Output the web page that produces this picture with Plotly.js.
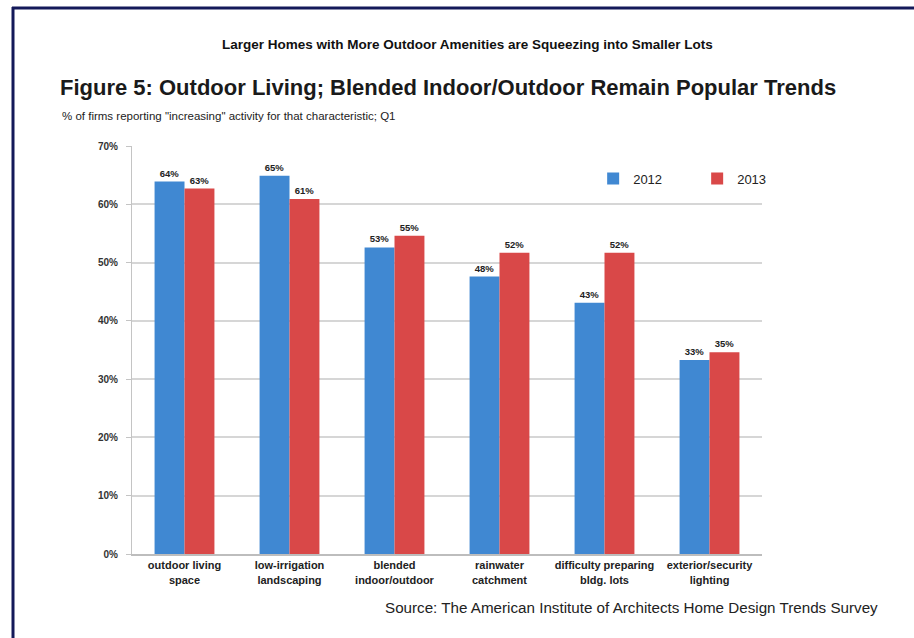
<!DOCTYPE html>
<html>
<head>
<meta charset="utf-8">
<script src="https://cdn.plot.ly/plotly-3.0.1.min.js"></script>
<style>html,body{margin:0;padding:0;background:#fff;}#chart{width:914px;height:638px;}</style>
</head>
<body>
<div id="chart"></div>
<script>
var categories = ["outdoor living<br>space", "low-irrigation<br>landscaping", "blended<br>indoor/outdoor", "rainwater<br>catchment", "difficulty preparing<br>bldg. lots", "exterior/security<br>lighting"];
var values2012 = [63.9, 64.9, 52.6, 47.6, 43.1, 33.3];
var values2013 = [62.7, 60.9, 54.6, 51.7, 51.7, 34.6];
var tickVals = [0, 10, 20, 30, 40, 50, 60, 70];
var tickText = ["0%", "10%", "20%", "30%", "40%", "50%", "60%", "70%"];
var seriesNames = ["2012", "2013"];

var FONT = "Liberation Sans, Arial, sans-serif";
function barTrace(name, vals, color) {
  return {
    type: "bar", name: name, x: categories, y: vals,
    marker: {color: color},
    text: vals.map(function(v){ return Math.round(v) + "%"; }),
    textposition: "outside", cliponaxis: false,
    textfont: {family: FONT, size: 9.5, color: "#222", weight: "bold"},
    hoverinfo: "skip"
  };
}
var data = [barTrace(seriesNames[0], values2012, "#4088d2"), barTrace(seriesNames[1], values2013, "#d94848")];

var navy = "#141a5a";
var layout = {
  width: 914, height: 638,
  margin: {l: 132, r: 152, t: 146, b: 84},
  paper_bgcolor: "#ffffff", plot_bgcolor: "#ffffff",
  barmode: "group", bargap: 0.43, bargroupgap: 0,
  showlegend: true,
  legend: {orientation: "h", x: 0.732, y: 0.92, xanchor: "left", yanchor: "middle",
    font: {family: FONT, size: 13, color: "#222"},
    bgcolor: "rgba(0,0,0,0)", entrywidth: 59, entrywidthmode: "pixels", itemwidth: 30},
  title: {text: "<b>Figure 5: Outdoor Living; Blended Indoor/Outdoor Remain Popular Trends</b>",
    xref: "container", yref: "container", x: 60/914, xanchor: "left", y: 1 - 87/638, yanchor: "middle",
    font: {family: FONT, size: 22, color: "#1a1a1a"}},
  xaxis: {
    tickfont: {family: FONT, size: 11, color: "#222", weight: "bold"},
    showline: true, linecolor: "#bdbdbd", linewidth: 2, ticks: "", showgrid: false, fixedrange: true
  },
  yaxis: {
    range: [0, 70], tickvals: tickVals, ticktext: tickText,
    tickfont: {family: FONT, size: 10, color: "#333", weight: "bold"},
    showgrid: true, gridcolor: "#d6d6d6", gridwidth: 2,
    showline: true, linecolor: "#c4c4c4", linewidth: 1,
    ticks: "outside", ticklen: 5, tickcolor: "#c4c4c4", ticklabelstandoff: 6, zeroline: false, fixedrange: true
  },
  annotations: [
    {text: "<b>Larger Homes with More Outdoor Amenities are Squeezing into Smaller Lots</b>",
     xref: "paper", yref: "paper", x: (467-132)/630, y: (554-44)/408, xanchor: "center", yanchor: "middle",
     showarrow: false, font: {family: FONT, size: 13.5, color: "#111"}},
    {text: "% of firms reporting \"increasing\" activity for that characteristic; Q1",
     xref: "paper", yref: "paper", x: (60-132)/630, y: (554-116)/408, xanchor: "left", yanchor: "middle",
     showarrow: false, font: {family: FONT, size: 11.5, color: "#222"}},
    {text: "Source: The American Institute of Architects Home Design Trends Survey",
     xref: "paper", yref: "paper", x: (383-132)/630, y: (554-607)/408, xanchor: "left", yanchor: "middle",
     showarrow: false, font: {family: FONT, size: 15.2, color: "#222"}}
  ],
  shapes: [
    {type: "line", xref: "paper", yref: "paper", x0: (12-132)/630, x1: (914-132)/630, y0: (554-8)/408, y1: (554-8)/408, line: {color: navy, width: 3}},
    {type: "line", xref: "paper", yref: "paper", x0: (13-132)/630, x1: (13-132)/630, y0: (554-7)/408, y1: (554-640)/408, line: {color: navy, width: 3}}
  ]
};
Plotly.newPlot("chart", data, layout, {displayModeBar: false, staticPlot: true});
</script>
</body>
</html>
